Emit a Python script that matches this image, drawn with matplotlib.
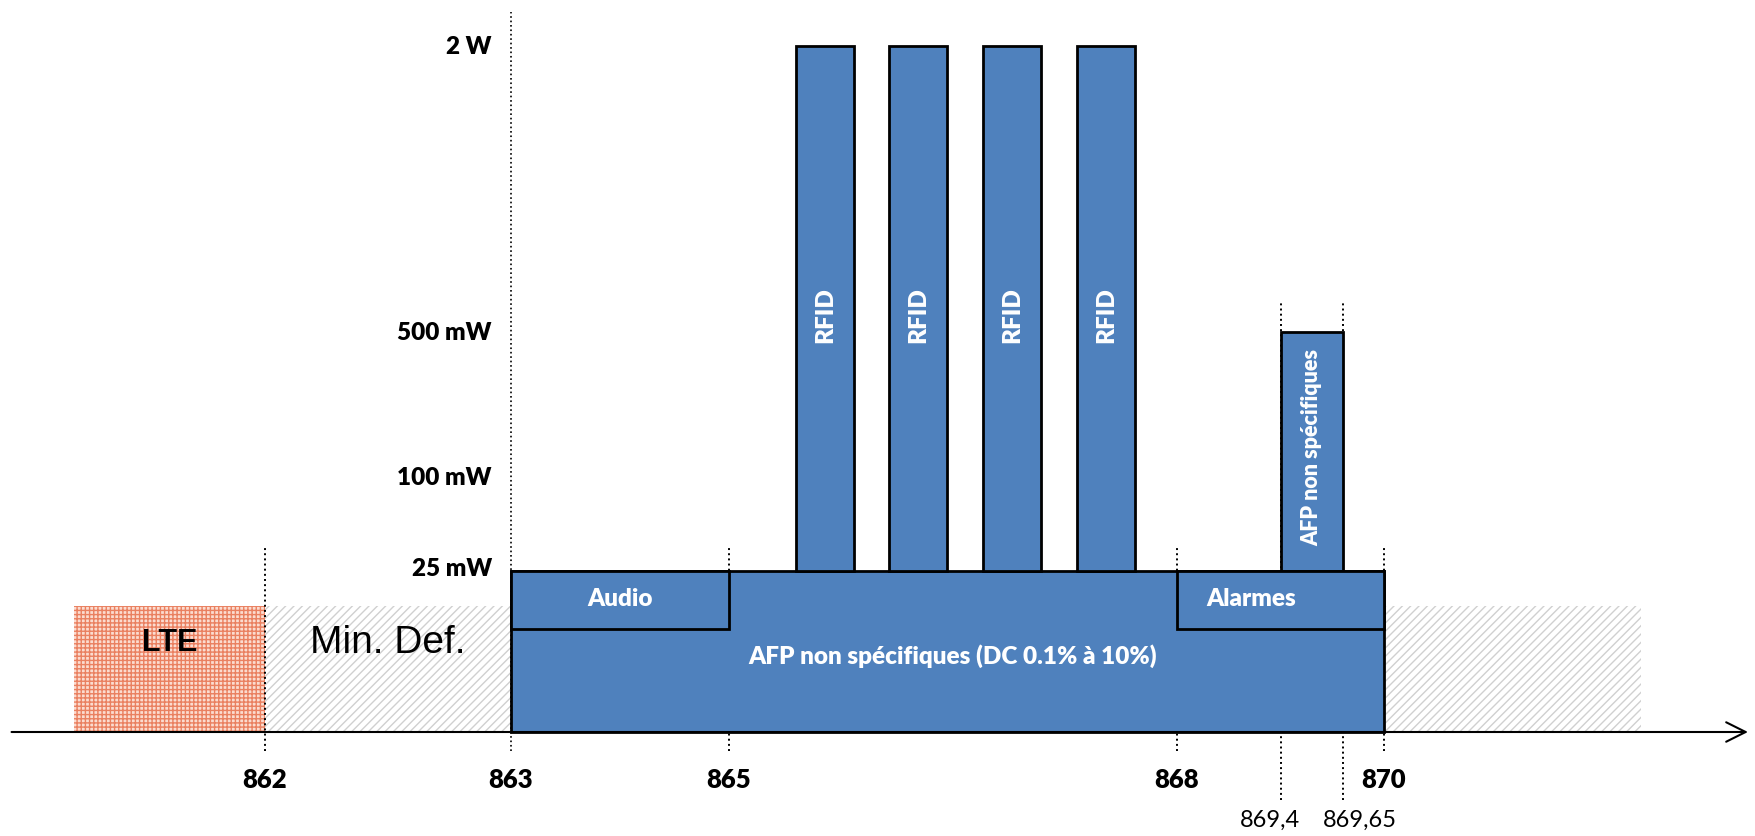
import numpy as np
import matplotlib
matplotlib.use('Agg')
import matplotlib.pyplot as plt
from matplotlib.patches import Rectangle
from matplotlib.transforms import offset_copy

plt.rcParams['font.family'] = ['Lato', 'DejaVu Sans']
W = 'heavy'

# data
major_ticks = [862, 863, 865, 868, 870]
minor_ticks = [869.4, 869.65]
minor_labels = ['869,4', '869,65']

power_levels = [25, 100, 500, 2000]          # mW
power_labels = ['25 mW', '100 mW', '500 mW', '2 W']

base_band = (863, 870)       # AFP non specifiques
base_power = 25
sub_bands = [(863, 865, 'Audio'), (868, 870, 'Alarmes')]
sub_bottom = 16

rfid_start = [865.45, 866.07, 866.70, 867.33]
rfid_width = 0.39
rfid_power = 2000

afp_band = (869.4, 869.65)
afp_power = 500

lte_band = (861, 862)
mindef_band = (862, 863)
right_band = (870, 871)
side_power = 19.5

# schematic (non linear) scales: value -> pixel
x_bp = [861, 862, 863, 865, 868, 869.4, 869.65, 870, 871]
x_px = [74, 265, 511, 729, 1177, 1281, 1343, 1384, 1641]
y_bp = [0, 25, 100, 500, 2000]
y_px = [104, 265, 359, 504, 790]


def extrap(v, xp, fp):
    v = np.asarray(v, dtype=float)
    out = np.interp(v, xp, fp)
    lo = (fp[1] - fp[0]) / (xp[1] - xp[0])
    hi = (fp[-1] - fp[-2]) / (xp[-1] - xp[-2])
    out = np.where(v < xp[0], fp[0] + (v - xp[0]) * lo, out)
    out = np.where(v > xp[-1], fp[-1] + (v - xp[-1]) * hi, out)
    return out


fig = plt.figure(figsize=(17.56, 8.37), dpi=100)
ax = fig.add_axes([0, 0, 1, 1])
ax.set_xscale('function', functions=(lambda v: extrap(v, x_bp, x_px),
                                     lambda p: extrap(p, x_px, x_bp)))
ax.set_yscale('function', functions=(lambda v: extrap(v, y_bp, y_px),
                                     lambda p: extrap(p, y_px, y_bp)))
ax.set_xlim(extrap(0, x_px, x_bp), extrap(1756, x_px, x_bp))
ax.set_ylim(extrap(0, y_px, y_bp), extrap(837, y_px, y_bp))
ax.axis('off')

blue = '#4F81BD'

# side regions
ax.add_patch(Rectangle((lte_band[0], 0), lte_band[1] - lte_band[0], side_power,
                       facecolor='#FBDCD0', edgecolor='#EA8060', hatch='++++',
                       linewidth=0, zorder=1))
for b in (mindef_band, right_band):
    ax.add_patch(Rectangle((b[0], 0), b[1] - b[0], side_power,
                           facecolor='white', edgecolor='#D0D0D0', hatch='////',
                           linewidth=0, zorder=1))

# dotted guide lines
ax.vlines(863, -3, 2180, colors='black', linestyles=':', lw=1.2, zorder=1.5)
ax.vlines([862, 865, 868, 870], -3, 46, colors='black', linestyles=':', lw=1.4, zorder=1.5)
ax.vlines(minor_ticks, -10.5, 665, colors='black', linestyles=':', lw=1.4, zorder=1.5)

# blue blocks
ax.bar(base_band[0], base_power, width=base_band[1] - base_band[0], align='edge',
       color=blue, edgecolor='black', linewidth=2, zorder=2)
for x0, x1, name in sub_bands:
    ax.add_patch(Rectangle((x0, sub_bottom), x1 - x0, base_power - sub_bottom,
                           facecolor=blue, edgecolor='black', linewidth=2, zorder=3))
    ax.text((x0 + x1) / 2, (sub_bottom + base_power) / 2 + 0.3, name, color='white',
            fontsize=17.5, fontweight=W, ha='center', va='center', zorder=4)
ax.bar(rfid_start, rfid_power - base_power, width=rfid_width, bottom=base_power,
       align='edge', color=blue, edgecolor='black', linewidth=2, zorder=2)
ax.bar(afp_band[0], afp_power - base_power, width=afp_band[1] - afp_band[0],
       bottom=base_power, align='edge', color=blue, edgecolor='black', linewidth=2, zorder=2)

for xs in rfid_start:
    ax.text(xs + rfid_width / 2, 594, 'RFID', color='white', rotation=90,
            fontsize=17.5, fontweight=W, ha='center', va='center', zorder=4)
ax.text(sum(afp_band) / 2, 185, 'AFP non spécifiques', color='white', rotation=90,
        fontsize=15.5, fontweight=W, ha='center', va='center', zorder=4)
ax.text(sum(base_band) / 2, 12, 'AFP non spécifiques (DC 0.1% à 10%)', color='white',
        fontsize=17.5, fontweight=W, ha='center', va='center', zorder=4)

ax.text(sum(lte_band) / 2, 14, 'LTE', fontsize=22, fontweight='bold',
        family='Liberation Sans', ha='center', va='center', zorder=4)
ax.text(sum(mindef_band) / 2, 14, 'Min. Def.', fontsize=28,
        family=['Liberation Sans Narrow', 'Liberation Sans'], ha='center', va='center', zorder=4)

# frequency axis
ax.annotate('', xy=(0.997, 0), xytext=(0.005, 0),
            xycoords=('axes fraction', 'data'), textcoords=('axes fraction', 'data'),
            arrowprops=dict(arrowstyle='->', lw=1.5, mutation_scale=35, color='black'),
            zorder=5)

for f in major_ticks:
    ax.text(f, -7.3, f'{f}', fontsize=18.5, fontweight=W, ha='center', va='center')
minor_shift = [-11, 17]
for f, lab, dx in zip(minor_ticks, minor_labels, minor_shift):
    tr = offset_copy(ax.transData, fig=fig, x=dx, y=0, units='dots')
    ax.text(f, -13.6, lab, transform=tr, fontsize=17, ha='center', va='center')

# power labels
lab_tr = offset_copy(ax.transData, fig=fig, x=-19, y=0, units='dots')
for p, lab in zip(power_levels, power_labels):
    dy = 2.6 if p == 25 else 0
    ax.text(863, p + dy, lab, transform=lab_tr, fontsize=17.5, fontweight=W,
            ha='right', va='center')

fig.savefig('out.png', dpi=100)
